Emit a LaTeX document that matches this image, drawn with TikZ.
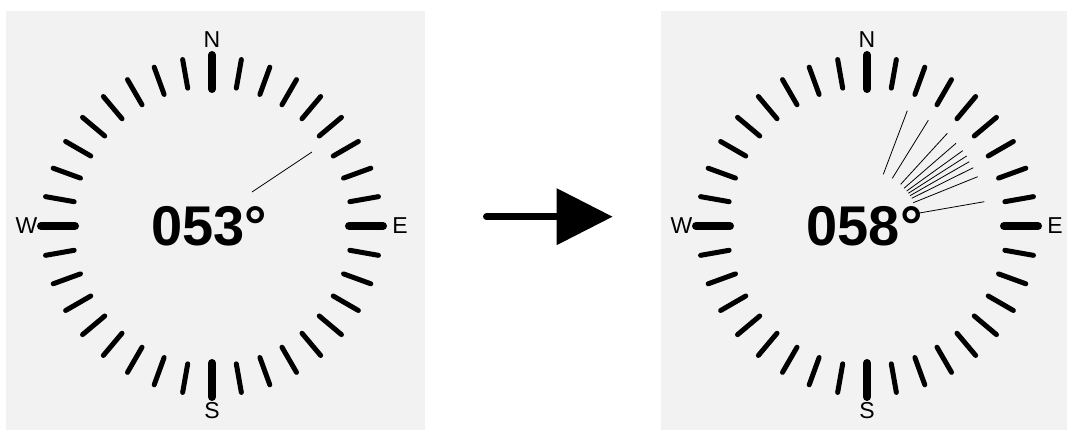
\documentclass[tikz,border=0pt]{standalone}
\usepackage{fontspec}
\setmainfont{Liberation Sans}
\usepackage{tikz}
\usetikzlibrary{arrows.meta}
\definecolor{panelgray}{HTML}{F2F2F2}

\begin{document}
\begin{tikzpicture}[x=1pt,y=1pt,
    minortick/.style={line width=5pt,line cap=round},
    majortick/.style={line width=8pt,line cap=round},
    needle/.style={line width=0.8pt},
    dirlabel/.style={font=\fontsize{23}{23}\selectfont,inner sep=0pt},
    heading/.style={font=\fontsize{56}{56}\selectfont\bfseries,inner sep=0pt}]
    \useasboundingbox (0,0) rectangle (1067,430);
    % two dial panels (right one runs off the page)
    \fill[panelgray] (6,0) rectangle (425,419);
    \fill[panelgray] (661,0) rectangle (1067,419);
    % dial face: ticks every 10 deg, cardinals heavier
    \foreach \cx/\val/\pfx in {212/053/l,867/058/r} {
      \begin{scope}[shift={(\cx,204)}]
        \foreach \b in {0,10,...,350}
          \draw[minortick] ({90-\b}:140) -- ({90-\b}:169);
        \foreach \b in {0,90,180,270}
          \draw[majortick] ({90-\b}:137) -- ({90-\b}:171);
        \node[dirlabel] (\pfx N) at (0,186) {N};
        \node[dirlabel] (\pfx S) at (0,-185) {S};
        \node[dirlabel] (\pfx W) at (-185.5,0) {W};
        \node[dirlabel] (\pfx E) at (188,0) {E};
        \node[heading] (\pfx hdg) at (-2.5,0) {\val°};
      \end{scope}
    }
    % left: single heading line
    \begin{scope}[shift={(212,204)}]
      \draw[needle] (40,34) -- (100,74);
    \end{scope}
    % right: fan of heading lines
    \begin{scope}[shift={(867,204)}]
      \foreach \xa/\ya/\xb/\yb in {16.3/51.7/40.3/115.3, 25.3/47.7/61.3/105.7,
          33.7/41.7/80.3/92.7, 37/37.7/89/82.7, 39.7/35/95.7/75.3,
          41.3/32.7/99.7/70, 43/30.3/102.3/64.3, 44.7/27.7/106.3/58.3,
          46.3/23.3/110.7/49.3, 50.7/12.7/117.3/24.3}
        \draw[needle] (\xa,\ya) -- (\xb,\yb);
    \end{scope}
    % arrow between the two dials
    \coordinate (from) at (486.5,213.3);
    \coordinate (to) at (612.7,213.3);
    \draw[line width=7pt,line cap=round,-{Triangle[length=56pt,width=55pt]}] (from) -- (to);
\end{tikzpicture}
\end{document}
